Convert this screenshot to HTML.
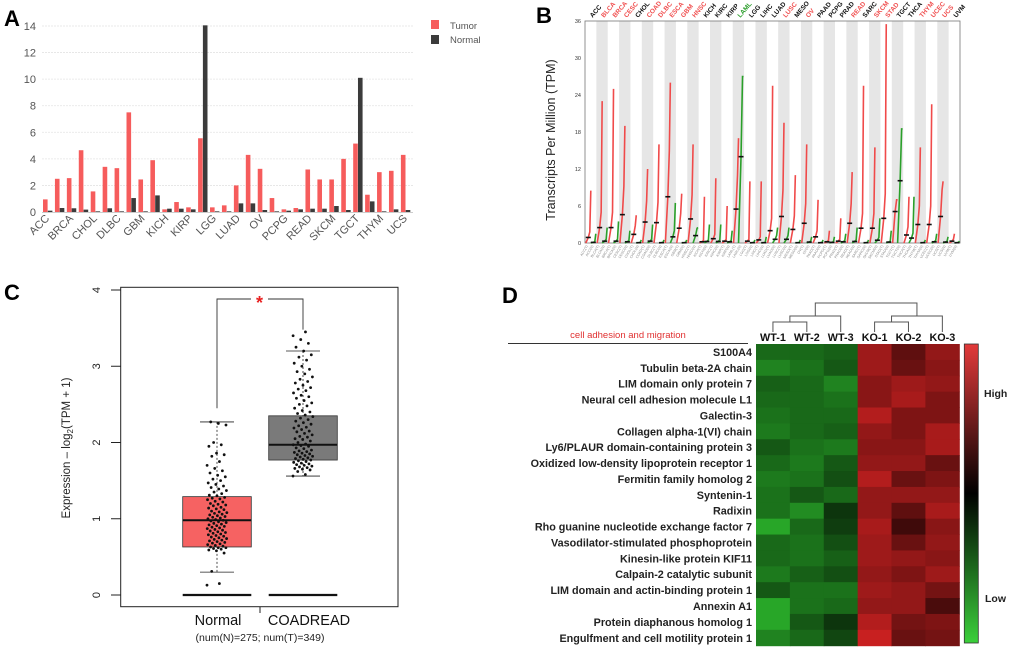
<!DOCTYPE html>
<html><head><meta charset="utf-8">
<style>
html,body{margin:0;padding:0;background:#fff;}
svg{display:block;font-family:"Liberation Sans",Arial,sans-serif;}
</style></head>
<body>
<svg id="fig" width="1020" height="655" viewBox="0 0 1020 655" xmlns="http://www.w3.org/2000/svg">
<rect width="1020" height="655" fill="#fff"/>
<text x="4" y="26" font-size="22" font-weight="bold">A</text>
<text x="536" y="23" font-size="22" font-weight="bold">B</text>
<text x="4" y="300" font-size="22" font-weight="bold">C</text>
<text x="502" y="303" font-size="22" font-weight="bold">D</text>
<g id="pa"></g>
<g id="pb"></g>
<g id="pc"></g>
<g id="pd"></g>
</svg>
<script>
// ---------- Panel A data ----------
const aCats = ["ACC","BLCA","BRCA","CESC","CHOL","COAD","DLBC","ESCA","GBM","HNSC","KICH","KIRC","KIRP","LAML","LGG","LIHC","LUAD","LUSC","OV","PAAD","PCPG","PRAD","READ","SARC","SKCM","STAD","TGCT","THCA","THYM","UCEC","UCS"];
const aTumor = [0.95,2.5,2.55,4.65,1.55,3.4,3.3,7.5,2.45,3.9,0.2,0.75,0.35,5.55,0.35,0.5,2.0,4.3,3.25,1.05,0.2,0.3,3.2,2.45,2.45,4.0,5.15,1.3,3.0,3.1,4.3];
const aNormal = [0.1,0.3,0.28,0.18,0.05,0.28,0.05,1.05,0.05,1.25,0.25,0.25,0.2,14.05,0.05,0.05,0.65,0.65,0.15,0.05,0.1,0.2,0.25,0.25,0.45,0.15,10.1,0.8,0.05,0.2,0.15];
const aTicks = [0,2,4,6,8,10,12,14];

// ---------- Panel B data ----------
const bCats = ["ACC","BLCA","BRCA","CESC","CHOL","COAD","DLBC","ESCA","GBM","HNSC","KICH","KIRC","KIRP","LAML","LGG","LIHC","LUAD","LUSC","MESO","OV","PAAD","PCPG","PRAD","READ","SARC","SKCM","STAD","TGCT","THCA","THYM","UCEC","UCS","UVM"];
const bLabelColor = ["k","r","r","r","k","r","r","r","r","r","k","k","k","g","k","k","k","r","k","r","k","k","k","r","k","r","r","k","k","r","r","r","k"];
const bTumorMed = [0.9,2.5,2.5,4.6,1.4,3.4,3.3,7.5,2.4,3.9,0.2,0.7,0.3,5.5,0.3,0.5,2.0,4.3,2.2,3.2,1.0,0.2,0.3,3.2,2.4,2.4,4.0,5.1,1.3,3.0,3.0,4.3,0.3];
const bTumorMax = [8.5,23,25,19,4.5,12,16,26,8,16,7.5,10.5,6,17,10,10,25.5,19.5,11,16,7,2,4,11.5,25.5,15.5,35.5,7,7.5,15.5,22.5,10,1.5];
const bNormalMed = [0.1,0.3,0.3,0.2,0.05,0.3,0.05,1.0,0.05,1.2,0.25,0.25,0.2,14,0.05,0.05,0.6,0.6,0.05,0.15,0.05,0.1,0.2,0.25,0.05,0.45,0.15,10.1,0.8,0.05,0.2,0.15,0.05];
const bNormalMax = [1.5,2.5,3.5,2,0.5,3,0.5,6.5,0.5,2.5,3,3,2,27,0.5,1,2.5,2.5,0.5,1,0.5,1,1.5,2.5,0.5,4,2,18.5,7.5,0.5,1.5,1,0.3];
const bTicks = [0,6,12,18,24,30,36];

// ---------- Panel C data ----------
const cGroups = ["Normal","COADREAD"];
const cQ1 = [0.63,1.77], cMed = [0.98,1.97], cQ3 = [1.29,2.35], cWlo = [0.3,1.56], cWhi = [2.27,3.2];
const cTicks = [0,1,2,3,4];
const cNormalVals = [0.13,0.15,0.31,0.55,0.58,0.59,0.6,0.61,0.62,0.62,0.63,0.64,0.65,0.66,0.67,0.68,0.69,0.7,0.71,0.72,0.73,0.74,0.75,0.76,0.77,0.78,0.79,0.8,0.81,0.82,0.83,0.84,0.85,0.86,0.87,0.88,0.89,0.9,0.91,0.92,0.93,0.94,0.95,0.96,0.97,0.98,0.99,1.0,1.01,1.02,1.03,1.04,1.05,1.06,1.07,1.08,1.09,1.1,1.12,1.13,1.14,1.15,1.17,1.18,1.19,1.2,1.22,1.23,1.25,1.26,1.27,1.28,1.3,1.31,1.33,1.35,1.37,1.39,1.41,1.43,1.45,1.47,1.5,1.52,1.55,1.57,1.6,1.63,1.66,1.7,1.75,1.82,1.84,1.86,1.95,1.97,2.0,2.23,2.25,2.27];
const cTumorVals = [1.56,1.58,1.62,1.64,1.65,1.66,1.67,1.68,1.69,1.7,1.71,1.72,1.73,1.74,1.75,1.76,1.77,1.78,1.79,1.8,1.81,1.82,1.83,1.84,1.85,1.86,1.87,1.88,1.89,1.9,1.92,1.93,1.95,1.96,1.97,1.98,2.0,2.02,2.04,2.05,2.07,2.08,2.1,2.12,2.14,2.15,2.17,2.19,2.2,2.22,2.24,2.26,2.28,2.3,2.32,2.34,2.36,2.38,2.4,2.42,2.45,2.48,2.5,2.52,2.55,2.58,2.6,2.62,2.65,2.68,2.7,2.72,2.75,2.78,2.8,2.83,2.86,2.9,2.93,2.96,3.0,3.04,3.08,3.12,3.15,3.2,3.25,3.3,3.35,3.4,3.45];

// ---------- Panel D data ----------
const dSamples = ["WT-1","WT-2","WT-3","KO-1","KO-2","KO-3"];
const dGenes = ["S100A4","Tubulin beta-2A chain","LIM domain only protein 7","Neural cell adhesion molecule L1","Galectin-3","Collagen alpha-1(VI) chain","Ly6/PLAUR domain-containing protein 3","Oxidized low-density lipoprotein receptor 1","Fermitin family homolog 2","Syntenin-1","Radixin","Rho guanine nucleotide exchange factor 7","Vasodilator-stimulated phosphoprotein","Kinesin-like protein KIF11","Calpain-2 catalytic subunit","LIM domain and actin-binding protein 1","Annexin A1","Protein diaphanous homolog 1","Engulfment and cell motility protein 1"];
const dValues = [
[-0.6,-0.6,-0.55,0.75,0.45,0.7],
[-0.75,-0.65,-0.5,0.75,0.5,0.65],
[-0.55,-0.6,-0.75,0.65,0.75,0.7],
[-0.6,-0.6,-0.65,0.65,0.8,0.6],
[-0.65,-0.6,-0.6,0.85,0.6,0.6],
[-0.7,-0.6,-0.55,0.7,0.6,0.8],
[-0.5,-0.65,-0.7,0.65,0.65,0.8],
[-0.6,-0.7,-0.5,0.7,0.7,0.5],
[-0.7,-0.65,-0.45,0.85,0.5,0.6],
[-0.65,-0.5,-0.6,0.7,0.7,0.7],
[-0.65,-0.8,-0.3,0.7,0.45,0.8],
[-0.95,-0.6,-0.35,0.8,0.3,0.65],
[-0.6,-0.65,-0.45,0.75,0.5,0.7],
[-0.6,-0.65,-0.55,0.75,0.7,0.65],
[-0.7,-0.55,-0.45,0.7,0.6,0.75],
[-0.5,-0.65,-0.65,0.75,0.7,0.55],
[-0.95,-0.65,-0.6,0.7,0.7,0.35],
[-0.95,-0.5,-0.3,0.85,0.55,0.6],
[-0.75,-0.6,-0.4,0.95,0.5,0.55]];

const NS="http://www.w3.org/2000/svg";
function mk(parent, tag, attrs, txt){
  const e=document.createElementNS(NS,tag);
  for(const k in attrs) e.setAttribute(k,attrs[k]);
  if(txt!==undefined) e.textContent=txt;
  parent.appendChild(e); return e;
}

// ================= Panel A =================
(function(){
  const g=document.getElementById('pa');
  const x0=42, band=11.93, yA=v=>212-v*(186/14);
  aTicks.forEach(t=>{
    if(t>0){ const l=mk(g,'line',{x1:x0,x2:413,y1:yA(t),y2:yA(t),stroke:'#e4e4e4','stroke-width':0.8,'stroke-dasharray':'2,1'});
    
     }
    const tx=mk(g,'text',{x:36,y:yA(t)+4,'font-size':11,fill:'#555','text-anchor':'end'},String(t));
    
    
  });
  aCats.forEach((c,i)=>{
    const bx=x0+i*band+1;
    const r=mk(g,'rect',{x:bx,y:yA(aTumor[i]),width:4.6,height:212-yA(aTumor[i]),fill:'#f65c5c'});
    
    
    const n=mk(g,'rect',{x:bx+4.8,y:yA(aNormal[i]),width:4.6,height:212-yA(aNormal[i]),fill:'#3b3b3b'});
    
    
    if(i%2===0){
      const cx=x0+i*band+band/2+2, cy=219;
      const t=mk(g,'text',{x:cx,y:cy,'font-size':11,fill:'#555','text-anchor':'end',transform:`rotate(-45 ${cx} ${cy})`},c);
      
      
    }
  });
  const ax=mk(g,'line',{x1:x0,x2:413,y1:212.5,y2:212.5,stroke:'#bbb','stroke-width':0.8});
  
  
  const l1=mk(g,'rect',{x:431,y:20,width:8,height:9,fill:'#f65c5c'});
  
  
  const t1=mk(g,'text',{x:450,y:29,'font-size':9.5,fill:'#555'},'Tumor');
  
  
  const l2=mk(g,'rect',{x:431,y:35,width:8,height:9,fill:'#3b3b3b'});
  
  
  const t2=mk(g,'text',{x:450,y:43,'font-size':9.5,fill:'#555'},'Normal');
  
  
})();

// ================= Panel B =================
(function(){
  const g=document.getElementById('pb');
  const L=585,R=960,T=21,B=243,cw=(R-L)/bCats.length, yB=v=>B-v*((B-T)/36);
  bCats.forEach((c,i)=>{
    if(i%2===1){ const r=mk(g,'rect',{x:L+i*cw,y:T,width:cw,height:B-T,fill:'#e6e6e6'});
      
       }
  });
  const fr=mk(g,'rect',{x:L,y:T,width:R-L,height:B-T,fill:'none',stroke:'#777','stroke-width':0.8});
  
  
  bTicks.forEach(t=>{
    const tx=mk(g,'text',{x:581,y:yB(t)+2,'font-size':5.5,fill:'#333','text-anchor':'end'},String(t));
    
    
  });
  const yt=mk(g,'text',{x:555,y:140,'font-size':12.5,fill:'#222','text-anchor':'middle',transform:'rotate(-90 555 140)'},'Transcripts Per Million (TPM)');
  
  
  function curve(xa,w,med,max,color,name){
    const pts=[[xa,yB(0)],[xa+w*0.5,yB(med)],[xa+w*0.8,yB(Math.min(max,med*2))],[xa+w,yB(max)]];
    const p=mk(g,'polyline',{points:pts.map(p=>p.join(',')).join(' '),fill:'none',stroke:color,'stroke-width':1.6});
    
    
    const m=mk(g,'line',{x1:xa+w*0.5-2.5,x2:xa+w*0.5+2.5,y1:yB(med),y2:yB(med),stroke:'#111','stroke-width':1.6});
    
    
  }
  bCats.forEach((c,i)=>{
    const x=L+i*cw;
    curve(x+0.8,5,bTumorMed[i],bTumorMax[i],'#f04a4a','b-tumor-points');
    curve(x+5.8,5,bNormalMed[i],bNormalMax[i],'#2aa02a','b-normal-points');
    const cx=x+cw/2+2, cy=18;
    const col=bLabelColor[i]==='r'?'#f05050':(bLabelColor[i]==='g'?'#2a9d2a':'#111');
    const t=mk(g,'text',{x:cx,y:cy,'font-size':6.5,'font-weight':'bold',fill:col,transform:`rotate(-50 ${cx} ${cy})`},c);
    
    
    ['T','N'].forEach((s,k)=>{
      const bx=x+3+k*5.5, by=246;
      const st=mk(g,'text',{x:bx,y:by,'font-size':3.5,fill:'#888','text-anchor':'end',transform:`rotate(-60 ${bx} ${by})`},c+'('+s+')');
      
      
    });
  });
})();

// ================= Panel C =================
(function(){
  const g=document.getElementById('pc');
  const yC=v=>595-v*76.25, cx=[217,303], hw=34.3;
  const fr=mk(g,'rect',{x:120.7,y:287.3,width:277.3,height:319.4,fill:'none',stroke:'#222','stroke-width':1});
  
  
  cTicks.forEach(t=>{
    const l=mk(g,'line',{x1:111,x2:120.7,y1:yC(t),y2:yC(t),stroke:'#222','stroke-width':1});
    
    
    const tx=mk(g,'text',{x:100,y:yC(t),'font-size':11,fill:'#222','text-anchor':'middle',transform:`rotate(-90 100 ${yC(t)})`},String(t));
    
    
  });
  const yt=mk(g,'text',{x:70,y:448,'font-size':11.5,fill:'#222','text-anchor':'middle',transform:'rotate(-90 70 448)'});
  
  
  yt.innerHTML='Expression – log<tspan font-size="8" dy="3">2</tspan><tspan dy="-3">(TPM + 1)</tspan>';
  const fills=['#f66262','#7a7a7a'];
  cGroups.forEach((gname,i)=>{
    const w1=mk(g,'line',{x1:cx[i],x2:cx[i],y1:yC(cWhi[i]),y2:yC(cWlo[i]),stroke:'#222','stroke-width':0.8,'stroke-dasharray':'2,2'});
    
    
    [cWhi[i],cWlo[i]].forEach(v=>{
      const cap=mk(g,'line',{x1:cx[i]-17,x2:cx[i]+17,y1:yC(v),y2:yC(v),stroke:'#222','stroke-width':0.8});
      
      
    });
    const b=mk(g,'rect',{x:cx[i]-hw,y:yC(cQ3[i]),width:hw*2,height:yC(cQ1[i])-yC(cQ3[i]),fill:fills[i],stroke:'#333','stroke-width':0.8});
    
    
    const m=mk(g,'line',{x1:cx[i]-hw,x2:cx[i]+hw,y1:yC(cMed[i]),y2:yC(cMed[i]),stroke:'#111','stroke-width':2});
    
    
    const z=mk(g,'line',{x1:cx[i]-hw,x2:cx[i]+hw,y1:yC(0),y2:yC(0),stroke:'#111','stroke-width':2.2});
    
    
    const lbl=mk(g,'text',{x:cx[i]+(i?6:1),y:625,'font-size':14.5,fill:'#111','text-anchor':'middle'},gname);
    
    
  });
  [cNormalVals,cTumorVals].forEach((vals,i)=>{
    vals.forEach((v,k)=>{
      const jit=(((k*0.6180339)%1)-0.5)*20;
      const d=mk(g,'circle',{cx:cx[i]+jit,cy:yC(v),r:1.4,fill:'#111'});
      
      
    });
  });
  const br=mk(g,'polyline',{points:`${cx[0]},${yC(2.45)} ${cx[0]},299 251,299`,fill:'none',stroke:'#333','stroke-width':0.9});
  
  
  const br2=mk(g,'polyline',{points:`268,299 ${cx[1]},299 ${cx[1]},${yC(3.48)}`,fill:'none',stroke:'#333','stroke-width':0.9});
  
  
  const st=mk(g,'text',{x:259.5,y:309,'font-size':18,'font-weight':'bold',fill:'#e82020','text-anchor':'middle'},'*');
  
  
  const xt=mk(g,'line',{x1:260,x2:260,y1:606.7,y2:613,stroke:'#222','stroke-width':1});
  
  
  const nn=mk(g,'text',{x:260,y:641,'font-size':10.5,fill:'#222','text-anchor':'middle'},'(num(N)=275; num(T)=349)');
  
  
})();

// ================= Panel D =================
(function(){
  const g=document.getElementById('pd');
  const L=756,T=344,cw=(959.3-756)/6,rh=(645.7-344)/19;
  function col(v){
    const a=Math.abs(v);
    return v>=0?`rgb(${Math.round(a*210)},${Math.round(a*34)},${Math.round(a*34)})`:`rgb(${Math.round(a*42)},${Math.round(a*175)},${Math.round(a*42)})`;
  }
  dValues.forEach((row,r)=>{
    row.forEach((v,c)=>{
      const cell=mk(g,'rect',{x:L+c*cw,y:T+r*rh,width:cw+0.5,height:rh+0.5,fill:col(v)});
      
      
    });
    const t=mk(g,'text',{x:752,y:T+r*rh+rh/2+4,'font-size':10.8,'font-weight':'bold',fill:'#222','text-anchor':'end'},dGenes[r]);
    
    
  });
  dSamples.forEach((s,c)=>{
    const t=mk(g,'text',{x:L+c*cw+cw/2,y:341,'font-size':10.8,'font-weight':'bold',fill:'#111','text-anchor':'middle'},s);
    
    
  });
  const hl=mk(g,'line',{x1:508,x2:748,y1:343.5,y2:343.5,stroke:'#333','stroke-width':1});
  
  
  const ct=mk(g,'text',{x:628,y:338,'font-size':9.5,fill:'#e03030','text-anchor':'middle'},'cell adhesion and migration');
  
  
  const cxs=dSamples.map((s,c)=>L+c*cw+cw/2);
  const dend=[
    `${cxs[0]},332 ${cxs[0]},322 ${cxs[1]},322 ${cxs[1]},332`,
    `${(cxs[0]+cxs[1])/2},322 ${(cxs[0]+cxs[1])/2},316 ${cxs[2]},316 ${cxs[2]},332`,
    `${cxs[3]},332 ${cxs[3]},322 ${cxs[4]},322 ${cxs[4]},332`,
    `${(cxs[3]+cxs[4])/2},322 ${(cxs[3]+cxs[4])/2},316 ${cxs[5]},316 ${cxs[5]},332`,
    `${(((cxs[0]+cxs[1])/2)+cxs[2])/2},316 ${(((cxs[0]+cxs[1])/2)+cxs[2])/2},303 ${(((cxs[3]+cxs[4])/2)+cxs[5])/2},303 ${(((cxs[3]+cxs[4])/2)+cxs[5])/2},316`];
  dend.forEach(p=>{
    const d=mk(g,'polyline',{points:p,fill:'none',stroke:'#555','stroke-width':1});
    
    
  });
  const defs=mk(g,'defs',{});
  const lg=mk(defs,'linearGradient',{id:'cbar',x1:0,y1:0,x2:0,y2:1});
  mk(lg,'stop',{offset:'0','stop-color':'#e23a3a'});
  mk(lg,'stop',{offset:'0.5','stop-color':'#000'});
  mk(lg,'stop',{offset:'1','stop-color':'#3bd03b'});
  const cb=mk(g,'rect',{x:964.3,y:344,width:14,height:299,fill:'url(#cbar)',stroke:'#333','stroke-width':0.8});
  
  
  const hi=mk(g,'text',{x:984,y:397,'font-size':10.5,'font-weight':'bold',fill:'#222'},'High');
  
  
  const lo=mk(g,'text',{x:985,y:602,'font-size':10.5,'font-weight':'bold',fill:'#222'},'Low');
  
  
})();
</script>
</body></html>
